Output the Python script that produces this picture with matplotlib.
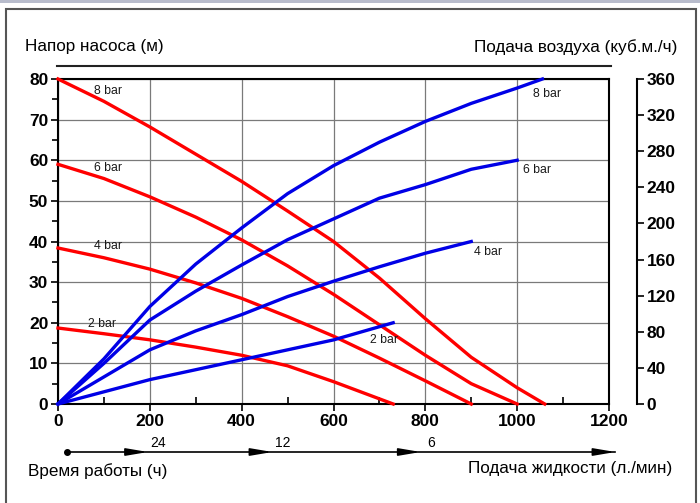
import matplotlib.pyplot as plt
import matplotlib.transforms as mtransforms
from matplotlib.lines import Line2D
from matplotlib.patches import Rectangle

plt.rcParams['font.family'] = ['Liberation Sans', 'DejaVu Sans']

# pump head (m) vs liquid flow (l/min)
head_8_x = [0, 100, 200, 300, 400, 500, 600, 700, 800, 900, 1000, 1060]
head_8_y = [80, 74.5, 68.2, 61.5, 54.8, 47.5, 40, 31, 21, 11.5, 4, 0]
head_6_x = [0, 100, 200, 300, 400, 500, 600, 700, 800, 900, 1000]
head_6_y = [59, 55.5, 51, 46, 40.4, 34, 27, 19.5, 12, 5, 0]
head_4_x = [0, 100, 200, 300, 400, 500, 600, 700, 800, 900]
head_4_y = [38.4, 36, 33.2, 29.8, 26, 21.5, 16.7, 11.3, 5.7, 0]
head_2_x = [0, 100, 200, 300, 400, 500, 600, 730]
head_2_y = [18.7, 17.3, 15.8, 14, 12, 9.4, 5.5, 0]

# air consumption (m3/h) vs liquid flow
air_8_x = [0, 100, 200, 300, 400, 500, 600, 700, 800, 900, 1000, 1055]
air_8_y = [0, 50, 108, 155, 195, 233, 264, 290, 313, 333, 350, 360]
air_6_x = [0, 100, 200, 300, 400, 500, 600, 700, 800, 900, 1000]
air_6_y = [0, 45, 93, 125, 154, 182, 205, 228, 243, 260, 270]
air_4_x = [0, 100, 200, 300, 400, 500, 600, 700, 800, 900]
air_4_y = [0, 30, 60, 81, 99, 119, 136, 152, 167, 180]
air_2_x = [0, 200, 400, 600, 730]
air_2_y = [0, 27, 49, 71, 90]

time_marks = [196, 467, 790]
time_labels = ['24', '12', '6']

fig = plt.figure(figsize=(7, 5.03), dpi=100)
ax = fig.add_axes([58/700, 1 - 404/503, 551/700, 325/503])

red = '#ff0000'
blue = '#0000e6'
for xs, ys in [(head_8_x, head_8_y), (head_6_x, head_6_y), (head_4_x, head_4_y), (head_2_x, head_2_y)]:
    ax.plot(xs, ys, color=red, lw=2.4, zorder=3, clip_on=False)
for xs, ys in [(air_8_x, air_8_y), (air_6_x, air_6_y), (air_4_x, air_4_y), (air_2_x, air_2_y)]:
    ax.plot(xs, [v / 4.5 for v in ys], color=blue, lw=2.4, zorder=4, clip_on=False)

ax.set_xlim(0, 1200)
ax.set_ylim(0, 80)
ax.set_xticks(range(0, 1201, 200))
ax.set_xticks(range(100, 1200, 200), minor=True)
ax.set_yticks(range(0, 81, 10))
ax.set_yticks(range(5, 80, 10), minor=True)
ax.grid(True, which='major', color='#7a7a7a', lw=0.9)
for s in ax.spines.values():
    s.set_linewidth(1.5)
ax.tick_params(which='major', labelsize=12.5, width=1.2, length=5, pad=2)
ax.tick_params(axis='x', which='minor', direction='in', length=5, width=1.2)
ax.tick_params(axis='y', which='minor', length=4, width=1.2)
for lbl in ax.get_xticklabels() + ax.get_yticklabels():
    lbl.set_fontweight('bold')

# curve labels
lab = dict(fontsize=8.8, color='#1a1a1a', va='center', ha='left')
ax.text(78, 77, '8 bar', **lab)
ax.text(78, 58, '6 bar', **lab)
ax.text(78, 39, '4 bar', **lab)
ax.text(65, 19.8, '2 bar', **lab)
ax.text(1035, 76.3, '8 bar', **lab)
ax.text(1012, 57.6, '6 bar', **lab)
ax.text(905, 37.4, '4 bar', **lab)
ax.text(680, 15.8, '2 bar', **lab)

# right axis
ax2 = ax.twinx()
ax2.set_ylim(0, 360)
ax2.set_yticks(range(0, 361, 40))
ax2.spines['right'].set_position(('outward', 20))
ax2.spines['right'].set_linewidth(1.5)
for k in ['top', 'left', 'bottom']:
    ax2.spines[k].set_visible(False)
ax2.tick_params(labelsize=12.5, width=1.2, length=5, pad=2)
for lbl in ax2.get_yticklabels():
    lbl.set_fontweight('bold')

# top rule and titles
title_fs = 12.3
fig.add_artist(Line2D([57/700, 611/700], [1 - 66/503, 1 - 66/503], color='#222222', lw=1.5))
fig.text(25/700, 1 - 47/503, 'Напор насоса (м)', fontsize=title_fs, va='center', ha='left')
fig.text(677/700, 1 - 47/503, 'Подача воздуха (куб.м./ч)', fontsize=title_fs, va='center', ha='right')

# operating time arrow
trans = mtransforms.blended_transform_factory(ax.transData, fig.transFigure)
ya = 1 - 452/503
ax.plot([20, 1214], [ya, ya], color='black', lw=1.2, transform=trans, clip_on=False)
ax.plot([20], [ya], 'o', color='black', ms=4, transform=trans, clip_on=False)
for xm in time_marks + [1214]:
    ax.annotate('', xy=(xm, ya), xytext=(xm - 30, ya), xycoords=trans, textcoords=trans,
                arrowprops=dict(arrowstyle='-|>,head_length=1.3,head_width=0.22', color='black', lw=1.2,
                                shrinkA=0, shrinkB=0), annotation_clip=False)
for xm, t in zip(time_marks, time_labels):
    ax.text(xm + 22, 1 - 443/503, t, fontsize=10, transform=trans, ha='center', va='center')
fig.text(28/700, 1 - 471/503, 'Время работы (ч)', fontsize=title_fs, va='center', ha='left')
fig.text(672/700, 1 - 469/503, 'Подача жидкости (л./мин)', fontsize=title_fs, va='center', ha='right')

# outer frame
fig.add_artist(Rectangle((6/700, -0.01), 690/700, (503 - 9)/503 + 0.01, fill=False,
                         edgecolor='#555555', lw=1.5, transform=fig.transFigure))
fig.add_artist(Rectangle((0, 1 - 3/503), 1, 3/503, color='#b8bccc', lw=0, transform=fig.transFigure))

fig.savefig('out.png', dpi=100)
